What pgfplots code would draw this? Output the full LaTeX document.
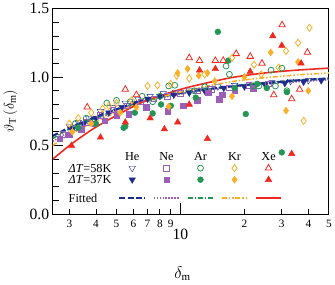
\documentclass[border=0pt]{standalone}
\usepackage{pgfplots}
\pgfplotsset{compat=1.18}
\usepackage{fontspec}
\setmainfont{Liberation Serif}
\definecolor{cHe}{RGB}{30,45,140}
\definecolor{cNe}{RGB}{155,95,185}
\definecolor{cAr}{RGB}{35,150,85}
\definecolor{cKr}{RGB}{250,175,40}
\definecolor{cXe}{RGB}{240,40,30}
\newcommand{\legfont}{\fontsize{12.5}{14}\selectfont}
\pgfplotsset{
 mk/.style={legend image code/.code={\draw[mark repeat=2,mark phase=2,##1] plot coordinates {(0bp,0bp)(13bp,0bp)(26bp,0bp)};}},
 ln/.style={legend image code/.code={\draw[##1] (0bp,0bp) -- (26bp,0bp);}},
 hd/.style={legend image code/.code={\node[inner sep=0pt, font=\legfont] at (13bp,0bp) {#1};}},
 rl/.style={legend image code/.code={\node[anchor=base west,inner sep=0pt, font=\legfont] at (0bp,-4.2bp) {#1};}},
 rld/.style={legend image code/.code={\node[anchor=base west,inner sep=0pt, text depth=8bp, font=\legfont] at (0bp,-4.2bp) {#1};}},
 omk/.style={only marks, mark options={solid, line width=0.8pt, fill=white}},
 fmk/.style={only marks, mark options={solid}},
}
\begin{document}
\begin{tikzpicture}
\begin{axis}[
 scale only axis, width=281bp, height=209bp,
 xmode=log, xmin=2.5, xmax=50, ymin=0, ymax=1.5,
 axis line style={line width=1pt},
 tick align=inside, xtick pos=bottom, ytick pos=left,
 tick style={line width=0.9pt, black},
 xtick={10}, xticklabels={10}, minor xtick={},
 extra x ticks={3,4,5,6,7,8,9,20,30,40,50},
 extra x tick labels={3,4,5,6,7,8,9,2,3,4,5},
 extra x tick style={major tick length=5bp, xticklabel style={font=\fontsize{11.5}{12}\selectfont, yshift=9bp}},
 major tick length=11bp, minor tick length=7bp,
 xticklabel style={font=\fontsize{16}{18}\selectfont, yshift=-12bp},
 ytick={0,0.5,1,1.5}, yticklabels={0.0,0.5,1.0,1.5},
 minor y tick num=4,
 yticklabel style={font=\fontsize{16}{18}\selectfont},
 /pgf/number format/assume math mode=true,
 xlabel={$\delta_\mathrm{m}$},
 xlabel style={font=\fontsize{16}{18}\selectfont, at={(axis description cs:0.47,0)}, anchor=north, yshift=-50bp},
 ylabel={$\vartheta_\mathrm{T}\,(\delta_\mathrm{m})$},
 ylabel style={font=\fontsize{15}{18}\selectfont, at={(axis description cs:-0.153,0.5)}, anchor=center},
 legend columns=6,
 legend style={draw=none, fill=none, at={(axis description cs:0.057,0.30)}, anchor=north west, inner sep=0pt, column sep=3bp, row sep=2bp, nodes={inner sep=0pt}},
]
% He
\addplot[forget plot, omk, color=cHe, mark=triangle, mark size=3.8bp, mark options={rotate=180}] coordinates {
(3.0,0.64)(3.3,0.67)(3.7,0.70)(4.2,0.75)(4.8,0.78)(5.5,0.81)(6.3,0.84)(7.2,0.86)(8.3,0.88)(9.5,0.89)(11,0.90)(13,0.91)(15,0.93)(18,0.94)(22,0.95)(27,0.96)(33,0.97)(40,0.975)};
\addplot[forget plot, fmk, color=cHe, mark=triangle*, mark size=3.8bp, mark options={rotate=180}] coordinates {
(3.1,0.62)(3.5,0.66)(4.0,0.70)(4.6,0.74)(5.3,0.78)(6.1,0.81)(7,0.84)(8,0.86)(9.3,0.87)(11,0.885)(13,0.90)(16,0.92)(20,0.93)(25,0.945)(31,0.955)(38,0.965)(46,0.975)};
% Ne
\addplot[forget plot, omk, color=cNe, mark=square, mark size=2.8bp] coordinates {
(2.8,0.58)(3.2,0.63)(3.6,0.67)(4.2,0.72)(4.8,0.76)(5.6,0.79)(6.5,0.82)(7.5,0.84)(8.7,0.86)(10,0.88)(12,0.90)(14,0.91)(17,0.92)(21,0.94)(26,0.95)};
\addplot[forget plot, fmk, color=cNe, mark=square*, mark size=2.8bp] coordinates {
(2.7,0.55)(3.0,0.58)(3.4,0.62)(3.9,0.66)(4.4,0.68)(5.0,0.72)(5.7,0.73)(6.9,0.78)(8.7,0.75)(10.3,0.79)(12,0.83)(13.5,0.885)(15.2,0.84)(15.7,0.87)(18,0.90)(22,0.92)};
% Ar
\addplot[forget plot, omk, color=cAr, mark=o, mark size=3bp] coordinates {
(3.2,0.66)(3.6,0.70)(4.5,0.81)(5.0,0.83)(5.8,0.82)(6.6,0.86)(7.4,0.82)(8.0,0.86)(8.8,0.935)(9.4,0.94)(11.6,0.90)(13,0.93)(16.4,1.08)(17,1.02)(22,0.935)(23.4,0.935)(26.7,1.05)(28,0.935)(30,1.065)(31.7,0.90)};
\addplot[forget plot, fmk, color=cAr, mark=*, mark size=3bp] coordinates {
(3.3,0.63)(4.0,0.66)(5.4,0.63)(5.5,0.64)(6.1,0.74)(7.4,0.735)(8.1,0.80)(9.0,0.79)(11.8,0.85)(15,1.33)(16.8,1.12)(18,0.92)(20.3,0.73)(23,0.95)(25.5,0.92)(30,0.45)(31.7,0.89)};
% Kr
\addplot[forget plot, omk, color=cKr, mark=diamond, mark size=3.6bp] coordinates {
(3.0,0.66)(3.3,0.70)(3.8,0.74)(4.3,0.77)(4.6,0.79)(5.0,0.81)(5.9,0.83)(7.0,0.935)(7.8,0.94)(9.0,0.95)(9.6,1.01)(11,0.99)(13,1.02)(17.5,1.14)(22.2,1.09)(24,1.02)(29,1.07)(31.4,1.19)(35.8,1.25)(38,0.68)(40.5,1.36)};
\addplot[forget plot, fmk, color=cKr, mark=diamond*, mark size=3.6bp] coordinates {
(3.1,0.60)(3.8,0.66)(5.2,0.74)(6.2,0.78)(8.8,0.785)(9.7,1.03)(10.8,1.06)(12.2,1.01)(13.4,1.03)(14.5,0.97)(17.5,0.86)(20,1.0)(26.6,1.18)(31.4,0.755)(35.8,1.11)(40,0.90)};
% Xe
\addplot[forget plot, omk, color=cXe, mark=triangle, mark size=3.8bp] coordinates {
(3.64,0.78)(5.5,0.91)(6.2,0.87)(11.0,1.14)(12.3,1.12)(14.6,1.12)(15.9,1.12)(18.3,1.17)(21.3,1.15)(24.2,1.10)(27.5,0.87)(30.1,1.38)(33.4,0.84)(36.4,0.91)(39.6,1.18)};
\addplot[forget plot, fmk, color=cXe, mark=triangle*, mark size=3.8bp] coordinates {
(3.07,0.50)(4.2,0.56)(5.5,0.67)(7.2,0.70)(8.4,0.62)(9.7,0.67)(11.0,0.80)(12.3,1.05)(13.4,0.55)(14.6,1.06)(21.3,1.04)(27.2,1.30)(30,1.23)(33.4,0.44)(37,1.10)};
% fitted curves
\addplot[forget plot, smooth, no marks, color=cNe, line width=1.6pt, dash pattern=on 1.5pt off 1.5pt] coordinates {
(2.5,0.53)(3,0.60)(4,0.69)(5,0.75)(6.7,0.82)(10,0.875)(14,0.91)(18,0.93)(25,0.95)(35,0.965)(50,0.98)};
\addplot[forget plot, smooth, no marks, color=cAr, line width=1.6pt, dash pattern=on 5pt off 2pt on 1.5pt off 2pt] coordinates {
(2.5,0.55)(3,0.62)(4,0.70)(5,0.76)(6.7,0.825)(10,0.88)(14,0.915)(18,0.935)(25,0.96)(35,0.975)(50,0.99)};
\addplot[forget plot, smooth, no marks, color=cHe, line width=2.2pt, dash pattern=on 6pt off 2.5pt] coordinates {
(2.5,0.57)(3,0.63)(4,0.71)(5,0.765)(6.7,0.83)(10,0.885)(14,0.915)(18,0.935)(25,0.955)(35,0.975)(50,0.99)};
\addplot[forget plot, smooth, no marks, color=cKr, line width=1.6pt, dash pattern=on 5pt off 2pt on 1.5pt off 2pt on 1.5pt off 2pt] coordinates {
(2.5,0.50)(3,0.58)(4,0.675)(5,0.74)(6.7,0.82)(10,0.89)(14,0.94)(18,0.97)(25,0.995)(35,1.015)(50,1.03)};
\addplot[forget plot, smooth, no marks, color=cXe, line width=1.6pt, solid] coordinates {
(2.5,0.40)(3,0.50)(3.5,0.575)(4,0.635)(5,0.72)(6.7,0.82)(10,0.91)(14,0.965)(18,1.0)(25,1.03)(35,1.05)(50,1.065)};
% legend
\addlegendimage{empty legend}\addlegendentry{\hbox{}}
\addlegendimage{hd=He}\addlegendentry{\hbox{}}
\addlegendimage{hd=Ne}\addlegendentry{\hbox{}}
\addlegendimage{hd=Ar}\addlegendentry{\hbox{}}
\addlegendimage{hd=Kr}\addlegendentry{\hbox{}}
\addlegendimage{hd=Xe}\addlegendentry{\hbox{}}
\addlegendimage{rl={\textit{ΔT}=58K}}\addlegendentry{\hbox{}}
\addlegendimage{omk, color=cHe, mark=triangle, mark size=3.8bp, mark options={rotate=180}, mk}\addlegendentry{\hbox{}}
\addlegendimage{omk, color=cNe, mark=square, mark size=2.8bp, mk}\addlegendentry{\hbox{}}
\addlegendimage{omk, color=cAr, mark=o, mark size=3bp, mk}\addlegendentry{\hbox{}}
\addlegendimage{omk, color=cKr, mark=diamond, mark size=3.6bp, mk}\addlegendentry{\hbox{}}
\addlegendimage{omk, color=cXe, mark=triangle, mark size=3.8bp, mk}\addlegendentry{\hbox{}}
\addlegendimage{rld={\textit{ΔT}=37K}}\addlegendentry{\hbox{}}
\addlegendimage{fmk, color=cHe, mark=triangle*, mark size=3.8bp, mark options={rotate=180}, mk}\addlegendentry{\hbox{}}
\addlegendimage{fmk, color=cNe, mark=square*, mark size=2.8bp, mk}\addlegendentry{\hbox{}}
\addlegendimage{fmk, color=cAr, mark=*, mark size=3bp, mk}\addlegendentry{\hbox{}}
\addlegendimage{fmk, color=cKr, mark=diamond*, mark size=3.6bp, mk}\addlegendentry{\hbox{}}
\addlegendimage{fmk, color=cXe, mark=triangle*, mark size=3.8bp, mk}\addlegendentry{\hbox{}}
\addlegendimage{rl={Fitted}}\addlegendentry{\hbox{}}
\addlegendimage{no marks, color=cHe, line width=2.2pt, dash pattern=on 6pt off 2.5pt, ln}\addlegendentry{\hbox{}}
\addlegendimage{no marks, color=cNe, line width=1.6pt, dash pattern=on 1.5pt off 1.5pt, ln}\addlegendentry{\hbox{}}
\addlegendimage{no marks, color=cAr, line width=1.6pt, dash pattern=on 5pt off 2pt on 1.5pt off 2pt, ln}\addlegendentry{\hbox{}}
\addlegendimage{no marks, color=cKr, line width=1.6pt, dash pattern=on 5pt off 2pt on 1.5pt off 2pt on 1.5pt off 2pt, ln}\addlegendentry{\hbox{}}
\addlegendimage{no marks, color=cXe, line width=1.6pt, solid, ln}\addlegendentry{\hbox{}}
\end{axis}
\path (current axis.south west) ++(-50bp,-71bp);
\path (current axis.north east) ++(4bp,4bp);
\end{tikzpicture}
\end{document}
